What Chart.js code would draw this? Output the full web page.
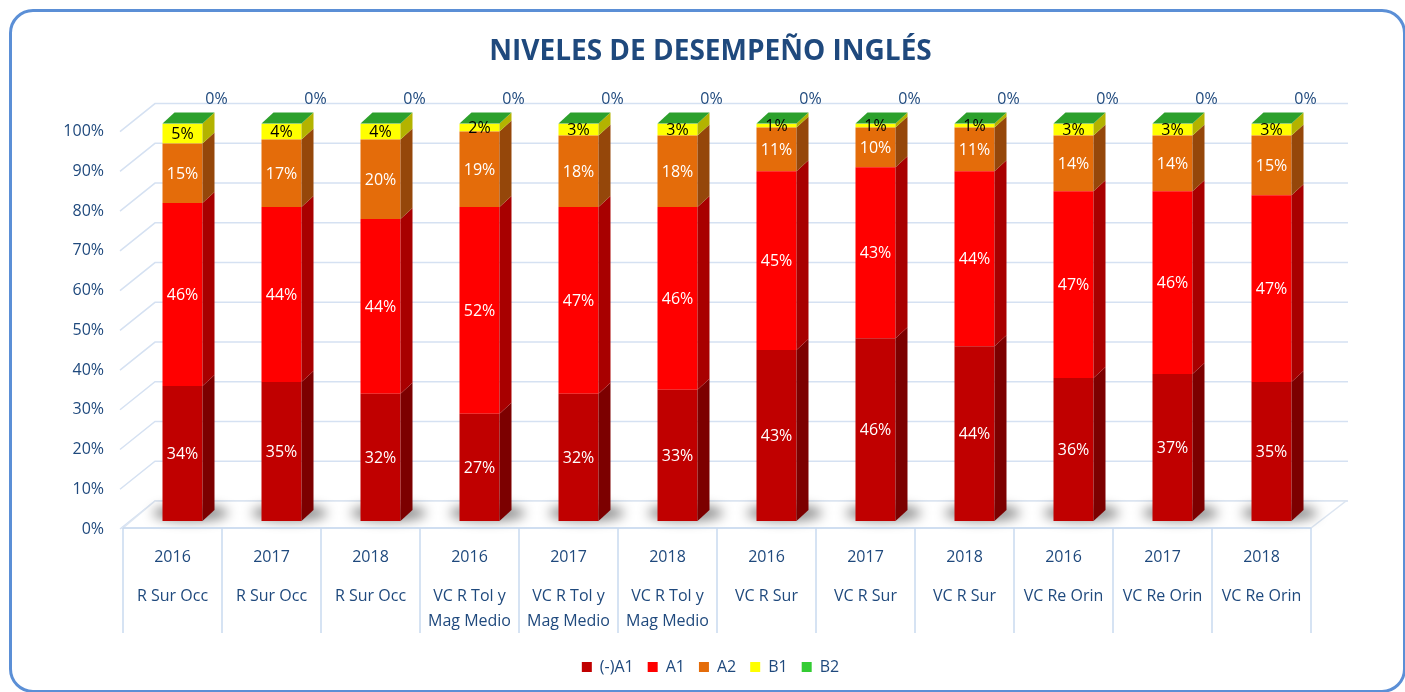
<!DOCTYPE html>
<html>
<head>
<meta charset="utf-8">
<script src="https://cdn.jsdelivr.net/npm/chart.js@4.4.1/dist/chart.umd.min.js"></script>
<style>
  html, body { margin: 0; padding: 0; background: #fff; }
  #wrap { position: relative; width: 1405px; height: 692px; overflow: hidden; }
  #frame { position: absolute; left: 9px; top: 9px; width: 1397px; height: 684px; border: 3px solid #5B8FD6; border-radius: 24px; box-sizing: border-box; pointer-events: none; }
  canvas { position: absolute; left: 0; top: 0; }
</style>
</head>
<body>
<div id="wrap">
  <canvas id="chart" width="1405" height="692"></canvas>
  <div id="frame"></div>
</div>
<script>
// categorias
const years = ['2016', '2017', '2018', '2016', '2017', '2018', '2016', '2017', '2018', '2016', '2017', '2018'];
const regions = ['R Sur Occ', 'R Sur Occ', 'R Sur Occ',
  ['VC R Tol y', 'Mag Medio'], ['VC R Tol y', 'Mag Medio'], ['VC R Tol y', 'Mag Medio'],
  'VC R Sur', 'VC R Sur', 'VC R Sur', 'VC Re Orin', 'VC Re Orin', 'VC Re Orin'];

// porcentajes por nivel
const menosA1 = [34, 35, 32, 27, 32, 33, 43, 46, 44, 36, 37, 35];
const a1 = [46, 44, 44, 52, 47, 46, 45, 43, 44, 47, 46, 47];
const a2 = [15, 17, 20, 19, 18, 18, 11, 10, 11, 14, 14, 15];
const b1 = [5, 4, 4, 2, 3, 3, 1, 1, 1, 3, 3, 3];
const b2 = [0, 0, 0, 0, 0, 0, 0, 0, 0, 0, 0, 0];

const seriesNames = ['(-)A1', 'A1', 'A2', 'B1', 'B2'];
const seriesValues = [menosA1, a1, a2, b1, b2];

// colores
const frontColors = ['#C00000', '#FF0000', '#E46C0A', '#FFFF00', '#33CC33'];
const sideColors = ['#7C0000', '#A80000', '#95470A', '#B3B300', '#249124'];
const labelColors = ['#FFFFFF', '#FFFFFF', '#FFFFFF', '#000000', '#1F497D'];
const topColor = '#2CA02C';
const textBlue = '#1F497D';

// efecto 3D
const SHIFT = 10, DX = 12, DY = 11;

const threeD = {
  id: 'threeD',
  beforeDatasetsDraw(chart) {
    const { ctx, chartArea: a, scales: { y } } = chart;
    ctx.save();
    // pared de fondo
    ctx.strokeStyle = '#D5E1F2';
    ctx.lineWidth = 1.5;
    y.ticks.forEach(t => {
      const py = y.getPixelForValue(t.value);
      ctx.beginPath();
      ctx.moveTo(a.left - 3, py + 8);
      ctx.lineTo(a.left + 32, py - 20);
      ctx.lineTo(a.right + 37, py - 20);
      ctx.stroke();
    });
    // piso
    const fy = y.getPixelForValue(0);
    ctx.fillStyle = '#FFFFFF';
    ctx.beginPath();
    ctx.moveTo(a.left, fy + 7);
    ctx.lineTo(a.right, fy + 7);
    ctx.lineTo(a.right + 35, fy - 20);
    ctx.lineTo(a.left + 32, fy - 20);
    ctx.closePath();
    ctx.fill();
    ctx.strokeStyle = '#DCE5F1';
    ctx.stroke();
    // sombras
    chart.getDatasetMeta(0).data.forEach(bar => {
      ctx.save();
      ctx.filter = 'blur(6px)';
      ctx.fillStyle = 'rgba(0,0,0,0.45)';
      ctx.beginPath();
      ctx.ellipse(bar.x + SHIFT + 8, fy - 8, bar.width * 0.95, 8, 0, 0, Math.PI * 2);
      ctx.fill();
      ctx.restore();
    });
    ctx.restore();

    // separadores de categorias
    ctx.save();
    ctx.strokeStyle = '#C9DAF0';
    ctx.lineWidth = 1.5;
    ctx.beginPath();
    ctx.moveTo(a.left, fy + 7);
    ctx.lineTo(a.right, fy + 7);
    const step = (a.right - a.left) / years.length;
    for (let i = 0; i <= years.length; i++) {
      const px = a.left + i * step;
      ctx.moveTo(px, fy + 7);
      ctx.lineTo(px, fy + 112);
    }
    ctx.stroke();
    ctx.restore();

    ctx.save();
    ctx.translate(SHIFT, 0);
  },
  afterDatasetsDraw(chart) {
    const { ctx } = chart;
    ctx.restore();
    ctx.save();
    const n = seriesValues.length;
    // caras laterales
    for (let i = 0; i < n; i++) {
      chart.getDatasetMeta(i).data.forEach(bar => {
        const top = bar.y, bot = bar.base;
        if (Math.abs(bot - top) < 0.1) return;
        const xr = bar.x + bar.width / 2 + SHIFT;
        ctx.fillStyle = sideColors[i];
        ctx.beginPath();
        ctx.moveTo(xr, bot);
        ctx.lineTo(xr, top);
        ctx.lineTo(xr + DX, top - DY);
        ctx.lineTo(xr + DX, bot - DY);
        ctx.closePath();
        ctx.fill();
      });
    }
    // cara superior
    chart.getDatasetMeta(n - 1).data.forEach(bar => {
      const top = bar.y;
      const xl = bar.x - bar.width / 2 + SHIFT, xr = bar.x + bar.width / 2 + SHIFT;
      ctx.fillStyle = topColor;
      ctx.beginPath();
      ctx.moveTo(xl, top);
      ctx.lineTo(xr, top);
      ctx.lineTo(xr + DX, top - DY);
      ctx.lineTo(xl + DX, top - DY);
      ctx.closePath();
      ctx.fill();
    });
    // etiquetas
    ctx.font = '16px "Open Sans"';
    ctx.textAlign = 'center';
    ctx.textBaseline = 'middle';
    for (let i = 0; i < n; i++) {
      chart.getDatasetMeta(i).data.forEach((bar, j) => {
        const v = seriesValues[i][j];
        ctx.fillStyle = labelColors[i];
        if (i === n - 1) {
          ctx.fillText(v + '%', bar.x + bar.width / 2 + SHIFT + 14, bar.y - 24);
        } else if (v > 0) {
          ctx.fillText(v + '%', bar.x + SHIFT, (bar.y + bar.base) / 2 + 1);
        }
      });
    }
    ctx.restore();
  }
};

Chart.defaults.font.family = '"Open Sans", sans-serif';
Chart.defaults.font.size = 16;
Chart.defaults.color = textBlue;

const ctx = document.getElementById('chart').getContext('2d');
new Chart(ctx, {
  type: 'bar',
  data: {
    labels: years,
    datasets: seriesNames.map((name, i) => ({
      label: name,
      data: seriesValues[i],
      backgroundColor: frontColors[i],
      borderWidth: 0
    }))
  },
  options: {
    responsive: false,
    animation: false,
    layout: { padding: { left: 16, right: 0, top: 0, bottom: 7 } },
    datasets: { bar: { barPercentage: 0.404, categoryPercentage: 1 } },
    scales: {
      x: {
        stacked: true,
        grid: { display: false },
        border: { display: false },
        ticks: { padding: 19, color: textBlue, font: { size: 16 } },
        afterFit: s => { s.height = 50; }
      },
      x2: {
        type: 'category',
        labels: regions,
        position: 'bottom',
        offset: true,
        weight: 1,
        grid: { display: false, drawTicks: false },
        border: { display: false },
        ticks: { padding: 13, autoSkip: false, maxRotation: 0, color: textBlue, font: { size: 16, lineHeight: 1.55 } },
        afterFit: s => { s.height = 74; }
      },
      y: {
        stacked: true,
        min: 0,
        max: 100,
        grid: { display: false, drawTicks: false },
        border: { display: false },
        ticks: { stepSize: 10, padding: 19, labelOffset: 8, color: textBlue, font: { size: 16 }, callback: v => v + '%' },
        afterFit: s => { s.width = 107; }
      },
      yRight: {
        type: 'linear',
        position: 'right',
        grid: { display: false, drawTicks: false },
        border: { display: false },
        ticks: { display: false },
        afterFit: s => { s.width = 94; }
      }
    },
    plugins: {
      title: {
        display: true,
        text: 'NIVELES DE DESEMPEÑO INGLÉS',
        color: textBlue,
        font: { size: 28, weight: 'bold' },
        padding: { top: 35, bottom: 55 }
      },
      legend: {
        position: 'bottom',
        labels: { boxWidth: 10, boxHeight: 10, padding: 14, color: textBlue, font: { size: 16 } }
      },
      tooltip: { enabled: false }
    }
  },
  plugins: [threeD]
});
</script>
</body>
</html>
